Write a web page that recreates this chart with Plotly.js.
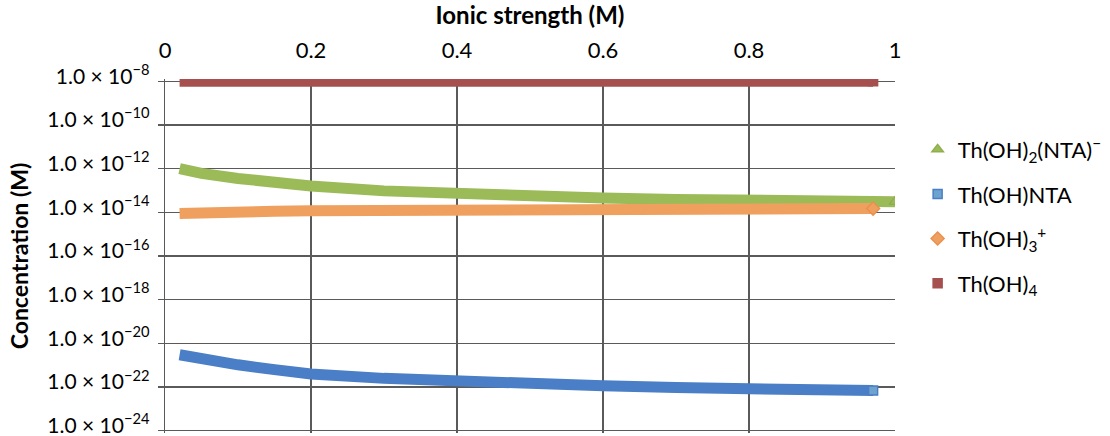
<!DOCTYPE html>
<html>
<head>
<meta charset="utf-8">
<script src="https://cdn.plot.ly/plotly-3.0.1.min.js"></script>
<style>html,body{margin:0;padding:0;background:#fff;}#chart{width:1110px;height:436px;}</style>
</head>
<body>
<div id="chart"></div>
<script>
// Ionic strength (M)
const xMain = [0.02, 0.05, 0.1, 0.15, 0.2, 0.3, 0.4, 0.5, 0.6, 0.7, 0.8, 0.9, 0.97];
const xGreen = [0.02, 0.05, 0.1, 0.15, 0.2, 0.3, 0.4, 0.5, 0.6, 0.7, 0.8, 0.9, 1.0];
// log10 of concentration (M)
const logThOH2NTA = [-12.0, -12.22, -12.45, -12.63, -12.8, -13.02, -13.17, -13.27, -13.35, -13.41, -13.45, -13.48, -13.52];
const logThOHNTA  = [-20.52, -20.72, -20.98, -21.2, -21.4, -21.6, -21.75, -21.86, -21.94, -22.02, -22.08, -22.12, -22.16];
const logThOH3    = [-14.06, -14.01, -13.98, -13.95, -13.93, -13.91, -13.9, -13.89, -13.87, -13.85, -13.84, -13.83, -13.83];
const logThOH4    = [-8.0, -8.0, -8.0, -8.0, -8.0, -8.0, -8.0, -8.0, -8.0, -8.0, -8.0, -8.0, -8.0];

const seriesNames = ['Th(OH)<sub>2</sub>(NTA)<sup>−</sup>', 'Th(OH)NTA', 'Th(OH)<sub>3</sub><sup>+</sup>', 'Th(OH)<sub>4</sub>'];
const yTickExps = [-8, -10, -12, -14, -16, -18, -20, -22, -24];
const yTickText = yTickExps.map(e => '1.0 × 10<sup>−' + Math.abs(e) + '</sup>');
const xTickVals = [0, 0.2, 0.4, 0.6, 0.8, 1];
const xTickText = ['0', '0.2', '0.4', '0.6', '0.8', '1'];

const toC = a => a.map(v => Math.pow(10, v));

const series = [
  {x: xGreen, y: toC(logThOH2NTA), name: seriesNames[0], color: '#9BBB59', symbol: 'triangle-up', mline: '#8FAF4F', msize: 10},
  {x: xMain, y: toC(logThOHNTA), name: seriesNames[1], color: '#4A7EC6', symbol: 'square', mline: '#4A7EC6', mfill: '#6FA3CF', msize: 9},
  {x: xMain, y: toC(logThOH3), name: seriesNames[2], color: '#F0A05E', symbol: 'diamond', mline: '#E89050', msize: 10},
  {x: xMain, y: toC(logThOH4), name: seriesNames[3], color: '#A5504F', symbol: 'square', mline: '#A5504F', msize: 9}
];

const traces = [];
series.forEach((s, i) => {
  traces.push({
    x: s.x, y: s.y, type: 'scatter', mode: 'lines',
    line: {color: s.color, width: 11},
    showlegend: false, hoverinfo: 'skip', legendgroup: 'g' + i
  });
  const n = s.x.length;
  traces.push({
    x: s.x.slice(n - 1), y: s.y.slice(n - 1), type: 'scatter', mode: 'markers',
    name: s.name, legendgroup: 'g' + i,
    marker: {symbol: s.symbol, size: s.msize, color: s.mfill || s.color, line: {color: s.mline, width: 1.5}}
  });
});

const gridCol = '#5a5a5a';
const layout = {
  width: 1110, height: 436,
  margin: {l: 165, r: 212, t: 79, b: 3},
  paper_bgcolor: '#fff', plot_bgcolor: '#fff',
  font: {family: 'Lato, "Open Sans", sans-serif', color: '#000', size: 22},
  showlegend: true,
  legend: {
    x: 1.031, xanchor: 'left', y: 0.86, yanchor: 'top',
    font: {size: 22, color: '#000'},
    tracegroupgap: 13, traceorder: 'grouped',
    bgcolor: 'rgba(0,0,0,0)'
  },
  xaxis: {
    side: 'top', range: [0, 1], tickvals: xTickVals, ticktext: xTickText,
    showgrid: true, gridcolor: gridCol, gridwidth: 1.3,
    zeroline: false, showline: false, ticks: 'outside', ticklen: 11, tickcolor: 'rgba(0,0,0,0)',
    tickfont: {size: 22},
    title: {text: '<b>Ionic strength (M)</b>', font: {size: 24}, standoff: 4}
  },
  yaxis: {
    type: 'log', range: [-24.1, -7.9],
    tickvals: toC(yTickExps), ticktext: yTickText,
    showgrid: true, gridcolor: gridCol, gridwidth: 1.3,
    zeroline: false, showline: true, linecolor: gridCol, linewidth: 1.3,
    ticks: 'outside', ticklen: 6, tickcolor: gridCol, tickwidth: 1.3,
    ticklabelstandoff: 4, ticklabelshift: -5, ticklabeloverflow: 'allow',
    tickfont: {size: 21},
    title: {text: '<b>Concentration (M)</b>', font: {size: 23}, standoff: 12}
  }
};

Plotly.newPlot('chart', traces, layout, {displayModeBar: false, staticPlot: true});
</script>
</body>
</html>
